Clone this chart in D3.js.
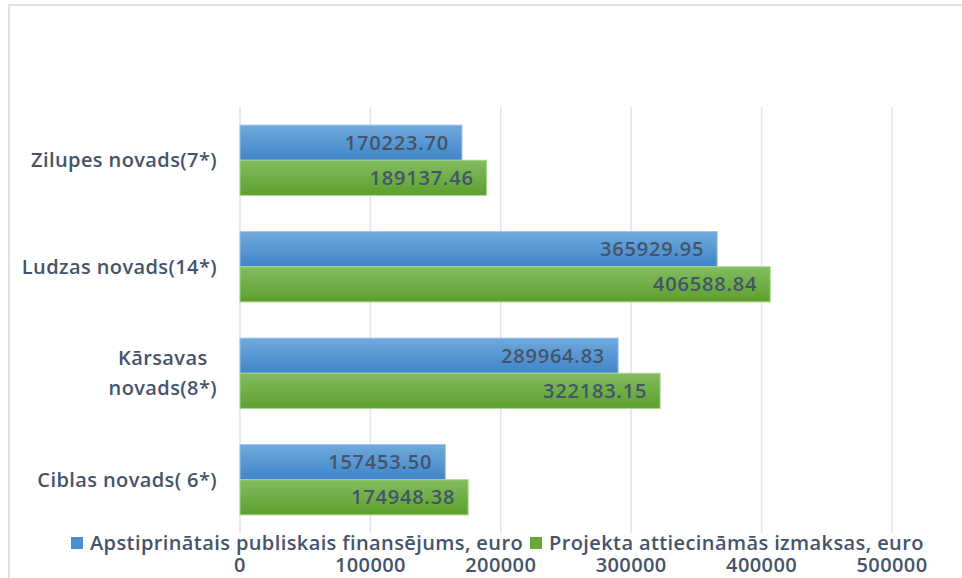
<!DOCTYPE html>
<html>
<head>
<meta charset="utf-8">
<script src="https://cdn.jsdelivr.net/npm/d3@7"></script>
<style>
  body { margin: 0; background: #fff; }
  text { font-family: "Open Sans", sans-serif; fill: #44546a; font-weight: 600; letter-spacing: 0.4px; }
</style>
</head>
<body>
<div id="chart"></div>
<script>
var categories = ["Zilupes novads(7*)", "Ludzas novads(14*)", "Kārsavas novads(8*)", "Ciblas novads( 6*)"];
var categoryLines = [["Zilupes novads(7*)"], ["Ludzas novads(14*)"], ["Kārsavas", "novads(8*)"], ["Ciblas novads( 6*)"]];
var seriesNames = ["Apstiprinātais publiskais finansējums, euro", "Projekta attiecināmās izmaksas, euro"];
var publicFunding = [170223.70, 365929.95, 289964.83, 157453.50];
var eligibleCosts = [189137.46, 406588.84, 322183.15, 174948.38];
var xTicks = [0, 100000, 200000, 300000, 400000, 500000];

var width = 962, height = 578;
var margin = { top: 107, right: 70, bottom: 45, left: 240 };
var innerW = 892 - margin.left;
var innerH = 533 - margin.top;

var svg = d3.select("#chart").append("svg")
    .attr("width", width)
    .attr("height", height);

var defs = svg.append("defs");
function grad(id, top, bottom) {
    var g = defs.append("linearGradient").attr("id", id)
        .attr("x1", 0).attr("y1", 0).attr("x2", 0).attr("y2", 1);
    g.append("stop").attr("offset", "0%").attr("stop-color", top);
    g.append("stop").attr("offset", "100%").attr("stop-color", bottom);
}
grad("gBlue", "#70a9de", "#3f85c7");
grad("gGreen", "#82bd5f", "#5d9f2e");
var fills = ["url(#gBlue)", "url(#gGreen)"];
var strokes = ["#9cc3ea", "#a9d38f"];
var swatch = ["#4a8fd2", "#66a83a"];

// outer frame
svg.append("rect")
    .attr("x", 9).attr("y", 5)
    .attr("width", 970).attr("height", 600)
    .attr("fill", "none")
    .attr("stroke", "#dde2ea")
    .attr("stroke-width", 2);

var g = svg.append("g")
    .attr("transform", "translate(" + margin.left + "," + margin.top + ")");

var x = d3.scaleLinear().domain([0, 500000]).range([0, innerW]);
var y = d3.scaleBand().domain(categories).range([0, innerH])
    .paddingInner(0.34).paddingOuter(0.17);
var ySub = d3.scaleBand().domain([0, 1]).range([0, y.bandwidth()]);

// gridlines
g.selectAll(".grid").data(xTicks).enter().append("line")
    .attr("x1", function(d){ return x(d); })
    .attr("x2", function(d){ return x(d); })
    .attr("y1", 0).attr("y2", innerH)
    .attr("stroke", "#e1e5ec")
    .attr("stroke-width", 1.5);

var rows = categories.map(function(c, i){
    return { cat: c, vals: [publicFunding[i], eligibleCosts[i]] };
});

var grp = g.selectAll(".grp").data(rows).enter().append("g")
    .attr("transform", function(d){ return "translate(0," + y(d.cat) + ")"; });

var bars = grp.selectAll(".bar")
    .data(function(d){ return d.vals.map(function(v, s){ return { v: v, s: s }; }); })
    .enter();

bars.append("rect")
    .attr("x", x(0))
    .attr("y", function(d){ return ySub(d.s); })
    .attr("width", function(d){ return x(d.v) - x(0); })
    .attr("height", ySub.bandwidth())
    .attr("fill", function(d){ return fills[d.s]; })
    .attr("stroke", function(d){ return strokes[d.s]; })
    .attr("stroke-width", 1);

bars.append("text")
    .attr("x", function(d){ return x(d.v) - 13; })
    .attr("y", function(d){ return ySub(d.s) + ySub.bandwidth() / 2; })
    .attr("dy", "0.35em")
    .attr("text-anchor", "end")
    .style("font-size", "20px")
    .style("letter-spacing", "0.8px")
    .text(function(d){ return d.v.toFixed(2); });

// category labels
var labelRight = -23;
categories.forEach(function(c, i){
    var lines = categoryLines[i];
    var t = g.append("text")
        .attr("text-anchor", "middle")
        .style("font-size", "20px");
    var lh = 30;
    var cy = y(c) + y.bandwidth() / 2;
    lines.forEach(function(l, j){
        t.append("tspan")
            .attr("x", 0)
            .attr("y", cy + (j - (lines.length - 1) / 2) * lh)
            .attr("dy", "0.35em")
            .text(l);
    });
    var w = t.node().getBBox().width;
    t.selectAll("tspan").attr("x", labelRight - w / 2);
});

// x axis tick labels
g.selectAll(".tick").data(xTicks).enter().append("text")
    .attr("x", function(d){ return x(d); })
    .attr("y", 565 - margin.top)
    .attr("dy", "0.35em")
    .attr("text-anchor", "middle")
    .style("font-size", "20px")
    .text(function(d){ return d; });

// legend
var legendX = [71, 530];
seriesNames.forEach(function(n, i){
    svg.append("rect")
        .attr("x", legendX[i]).attr("y", 537)
        .attr("width", 12).attr("height", 12)
        .attr("fill", swatch[i]);
    svg.append("text")
        .attr("x", legendX[i] + 19).attr("y", 543)
        .attr("dy", "0.35em")
        .style("font-size", "20px")
        .text(n);
});
</script>
</body>
</html>
